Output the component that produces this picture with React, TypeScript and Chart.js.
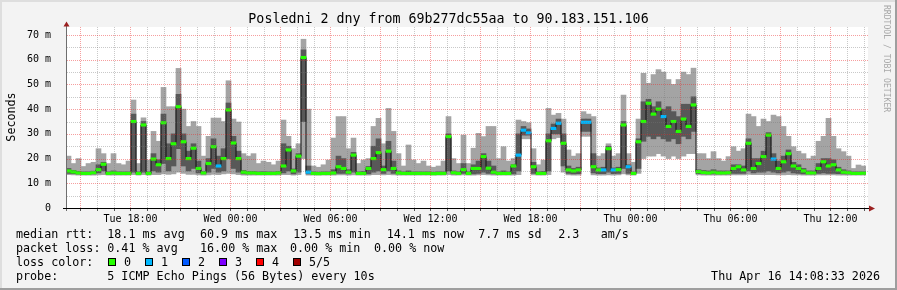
import React, { useEffect, useRef } from 'react';
import { Chart, registerables } from 'chart.js';

Chart.register(...registerables);

const W = 897;
const H = 290;
const MONO = '"DejaVu Sans Mono", monospace';

const TITLE = 'Posledni 2 dny from 69b277dc55aa to 90.183.151.106';
const START_MIN = 14 * 60 + 8 + 33 / 60; // Tue 14:08:33 (minutes after Tue 00:00)
const SPAN_MIN = 48 * 60;
const STEP_MIN = 18;

// smoke: min .. max (light), lo .. hi (dark), median (line)
const smokeMax = [
  21, 18, 20, 16.8, 18, 18.5, 24, 22, 18, 22,
  18, 17.5, 19, 43.7, 18, 36.5, 19.4, 31, 27, 48.8,
  41, 41, 56.5, 40, 33, 35, 33, 21, 29, 36.4,
  36.4, 35, 51.5, 36, 34.8, 22, 21, 22, 18, 19,
  18.5, 17.5, 19, 35.6, 29, 24, 26, 68.3, 40, 17,
  16.5, 17.5, 19.4, 28.3, 37, 37, 24, 28.3, 18, 19.4,
  20, 33, 36.3, 26, 40.3, 31, 22, 17, 25.5, 19.4,
  18, 19, 17, 16.5, 17, 19, 37, 20, 18, 29.5,
  18, 24.2, 30.2, 28.9, 33, 33, 20, 24.8, 19, 20,
  35.6, 35, 34.5, 24, 17.5, 19.4, 40.3, 37.6, 38.3, 36,
  23.5, 21, 22, 39, 38, 37, 21, 22, 26, 21,
  22, 45.7, 22, 18.5, 36, 54.5, 50.5, 54, 56, 55,
  52, 50, 52, 55, 54, 56.6, 22, 22, 20, 22.8,
  20, 19, 20.8, 24.8, 23, 24, 38, 37, 33, 36,
  35, 37.6, 37, 33, 29, 24.8, 23, 22, 20, 21,
  27, 29, 36.3, 29, 24, 22.8, 21, 16, 17.4, 17,
];

const smokeHi = [
  16, 15.2, 14.8, 14.6, 14.6, 14.9, 17.5, 18.5, 14.6, 15,
  14.6, 14.6, 14.6, 38, 14.6, 35, 14.6, 22, 19.5, 38,
  26, 30, 46, 30, 23, 26, 19, 14.8, 20, 28,
  21, 24, 42.5, 29, 23, 15.2, 14.8, 14.8, 14.6, 14.7,
  14.6, 14.6, 14.8, 26, 25, 15.8, 22, 64, 17, 14.6,
  14.5, 14.6, 14.6, 15.5, 21, 20, 15.5, 22.5, 14.6, 14.8,
  16.8, 25, 28, 17, 27, 19, 15, 14.6, 15, 14.6,
  14.6, 14.6, 14.6, 14.5, 14.6, 14.6, 30, 15, 14.6, 18,
  14.6, 17.5, 19, 22, 19, 17, 14.6, 15, 14.6, 17.5,
  30, 33, 32, 18.5, 14.6, 14.8, 30, 34, 36, 30,
  17, 16, 16.5, 36, 36, 22, 16.2, 16.5, 25, 16.2,
  16.5, 35, 17.5, 14.6, 28, 43, 44, 41, 43, 40,
  41, 39, 37, 42, 42, 45, 15.5, 15.2, 15, 15.5,
  15, 15, 15, 17.5, 17.5, 17, 28, 20, 20, 23,
  30.5, 22, 19, 21, 23.5, 18.5, 17.5, 16, 15, 15,
  18, 20, 20, 19.5, 16.5, 15.5, 15, 14.6, 14.6, 14.6,
];

const median = [
  15, 14.6, 14.2, 14, 14, 14.3, 15.5, 17.7, 14, 14.2,
  14, 14, 14, 35, 14, 33.6, 14, 19.8, 17.5, 34.5,
  20, 26, 41, 26.8, 20, 24.2, 16, 14.2, 18, 24.8,
  17, 20, 39.7, 26.3, 20, 14.5, 14.2, 14.2, 14, 14,
  14, 14, 14.2, 17, 23.5, 15, 21, 60.9, 14.5, 14,
  13.9, 14, 14, 14.2, 16.7, 16, 14.5, 21.4, 14, 14,
  16, 20, 22.4, 15.5, 23, 16, 14.2, 14, 14, 14,
  14, 14, 14, 13.9, 14, 14, 28.9, 14.3, 14, 15.5,
  14, 16, 16, 20.8, 16.1, 14.5, 14, 14, 14, 17,
  21.4, 31.5, 30.4, 16.7, 14, 14, 27.2, 32.2, 34.3, 26.2,
  15.4, 15, 15.4, 34.7, 34.7, 16.7, 15.4, 15.4, 24, 15.4,
  15.5, 33.6, 16.7, 14, 26.8, 35, 42.4, 38, 40, 37,
  33, 35, 31, 36, 33, 41.7, 14.7, 14.4, 14.2, 14.5,
  14.2, 14.2, 14.3, 16, 16.7, 15.4, 26.2, 16, 18, 20.8,
  29.5, 19.8, 16, 18.7, 22, 17, 16, 15, 14.2, 14.2,
  16, 18.7, 17, 17.5, 15.4, 14.5, 14.3, 14, 14, 14.1,
];

const smokeLo = [
  14, 13.9, 13.8, 13.8, 13.8, 13.8, 14.2, 15, 13.8, 13.8,
  13.8, 13.8, 13.8, 14.5, 13.8, 14.5, 13.8, 15, 14.5, 18,
  15, 17, 24, 17, 15, 16, 14.2, 13.8, 14.5, 16,
  14.5, 15, 20, 16, 14.5, 13.8, 13.8, 13.8, 13.8, 13.8,
  13.8, 13.8, 13.8, 14.2, 15, 13.8, 14.5, 35, 13.8, 13.8,
  13.8, 13.8, 13.8, 13.8, 14, 14, 13.8, 14.5, 13.8, 13.8,
  13.8, 14.5, 15, 14, 15, 14, 13.8, 13.8, 13.8, 13.8,
  13.8, 13.8, 13.8, 13.8, 13.8, 13.8, 15, 13.8, 13.8, 14,
  13.8, 13.8, 14, 14.5, 14, 13.8, 13.8, 13.8, 13.8, 13.8,
  15, 29.5, 29.5, 14, 13.8, 13.8, 15, 30, 30, 17,
  14, 13.8, 13.9, 31, 31, 14.2, 13.9, 13.9, 14.5, 13.9,
  14, 16, 14, 13.8, 16, 27, 29, 28, 29, 28,
  27, 28, 26, 29, 28, 31, 13.9, 13.8, 13.8, 13.8,
  13.8, 13.8, 13.8, 14, 14, 14, 15, 14.2, 14.5, 14.5,
  15, 14.5, 14.2, 14.5, 15, 14.2, 14, 13.8, 13.8, 13.8,
  14, 14.2, 14, 14, 13.9, 13.8, 13.8, 13.8, 13.8, 13.8,
];

const smokeMin = [
  13.5, 13.4, 13.3, 13.3, 13.3, 13.3, 13.4, 13.5, 13.3, 13.3,
  13.3, 13.3, 13.3, 13.5, 13.3, 13.5, 13.3, 13.5, 13.5, 13.8,
  13.6, 13.8, 14.5, 14, 13.6, 13.6, 13.4, 13.3, 13.4, 13.6,
  13.5, 13.8, 14, 13.8, 13.5, 13.3, 13.3, 13.3, 13.3, 13.3,
  13.3, 13.3, 13.3, 13.5, 13.5, 13.3, 13.5, 20, 13.3, 13.3,
  13.3, 13.3, 13.3, 13.3, 13.4, 13.4, 13.3, 13.4, 13.3, 13.3,
  13.3, 13.5, 13.5, 13.4, 13.5, 13.4, 13.3, 13.3, 13.3, 13.3,
  13.3, 13.3, 13.3, 13.3, 13.3, 13.3, 13.5, 13.3, 13.3, 13.4,
  13.3, 13.3, 13.4, 13.5, 13.4, 13.3, 13.3, 13.3, 13.3, 13.3,
  13.5, 28, 28, 13.4, 13.3, 13.3, 13.5, 28, 28.5, 14.5,
  13.4, 13.3, 13.3, 29, 29, 13.4, 13.3, 13.3, 13.4, 13.3,
  13.4, 13.8, 13.4, 13.3, 14, 20, 21, 21, 22, 21,
  20, 21, 20, 21, 22, 22, 13.4, 13.3, 13.3, 13.3,
  13.3, 13.3, 13.3, 13.4, 13.4, 13.4, 13.6, 13.5, 13.5, 13.5,
  13.5, 13.5, 13.4, 13.4, 13.5, 13.4, 13.4, 13.3, 13.3, 13.3,
  13.4, 13.4, 13.4, 13.4, 13.3, 13.3, 13.3, 13.3, 13.3, 13.3,
];

// lost pings out of 5 for each step
const lossCount = [
  0, 0, 0, 0, 0, 0, 0, 0, 0, 0,
  0, 0, 0, 0, 0, 0, 0, 0, 0, 0,
  0, 0, 0, 0, 0, 0, 0, 0, 0, 0,
  1, 0, 0, 0, 0, 0, 0, 0, 0, 0,
  0, 0, 0, 0, 0, 0, 0, 0, 1, 0,
  0, 0, 0, 0, 0, 0, 0, 0, 0, 0,
  0, 0, 0, 0, 0, 0, 0, 0, 0, 0,
  0, 0, 0, 0, 0, 0, 0, 0, 0, 0,
  0, 0, 0, 0, 0, 0, 0, 0, 0, 0,
  1, 1, 1, 0, 0, 0, 0, 1, 1, 0,
  0, 0, 0, 1, 1, 0, 0, 1, 0, 1,
  0, 0, 1, 0, 0, 0, 0, 0, 0, 1,
  0, 0, 0, 0, 0, 0, 0, 0, 0, 0,
  0, 0, 0, 0, 0, 0, 0, 0, 0, 0,
  0, 1, 0, 0, 0, 0, 0, 0, 0, 0,
  0, 0, 0, 0, 0, 0, 0, 0, 0, 0,
];

const xLabelTimes = [1080, 1440, 1800, 2160, 2520, 2880, 3240, 3600];
const xLabels = ['Tue 18:00', 'Wed 00:00', 'Wed 06:00', 'Wed 12:00', 'Wed 18:00', 'Thu 00:00', 'Thu 06:00', 'Thu 12:00'];
const yLabelValues = [0, 10, 20, 30, 40, 50, 60, 70];
const yLabels = ['0', '10 m', '20 m', '30 m', '40 m', '50 m', '60 m', '70 m'];

const lossColors = ['#26ff00', '#00b8ff', '#0059ff', '#7e00ff', '#ff0000', '#a00000'];
const lossLabels = ['0', '1', '2', '3', '4', '5/5'];

const rttTexts = ['median rtt:', '18.1 ms avg', '60.9 ms max', '13.5 ms min', '14.1 ms now', '7.7 ms sd', '2.3', 'am/s'];
const lossTexts = ['packet loss:', '0.41 % avg', '16.00 % max', '0.00 % min', '0.00 % now'];
const probeTexts = ['probe:', '5 ICMP Echo Pings (56 Bytes) every 10s'];
const DATE_TEXT = 'Thu Apr 16 14:08:33 2026';

// layout
const rttX = [16, 107.3, 200, 293.3, 386.7, 478.3, 558.3, 600.7];
const lossX = [16, 107.3, 200, 290, 374];
const probeX = [16, 107.3];
const swatchX = [108.5, 145.5, 182.5, 219.5, 256.5, 293.5];
const MAJOR = 'rgba(235, 40, 40, 0.45)';
const MINOR = 'rgba(120, 120, 120, 0.40)';
const ARROW = '#9b2020';
const BAND = 0.5;

const hourTicks: number[] = [];
for (let v = 900; v <= 3720; v += 60) hourTicks.push(v);
const yGrid: number[] = [];
for (let v = 5; v <= 70; v += 5) yGrid.push(v);

const framePlugin = {
  id: 'rrdFrame',
  beforeDraw(chart: any) {
    const c = chart.ctx;
    const a = chart.chartArea;
    c.save();
    c.fillStyle = '#f3f3f3';
    c.fillRect(0, 0, W, H);
    c.fillStyle = '#dedede';
    c.fillRect(0, 0, W, 2);
    c.fillRect(0, 0, 2, H);
    c.fillStyle = '#9e9e9e';
    c.fillRect(0, H - 2, W, 2);
    c.fillRect(W - 2, 0, 2, H);
    c.fillStyle = '#ffffff';
    c.fillRect(a.left, a.top, a.right - a.left + 2, a.bottom - a.top);
    c.restore();
  },
  afterDatasetsDraw(chart: any) {
    const c = chart.ctx;
    const a = chart.chartArea;
    const xs = chart.scales.x;
    const ys = chart.scales.y;
    c.save();
    c.lineWidth = 1;
    c.setLineDash([1, 1]);
    hourTicks.forEach((v) => {
      const px = Math.round(xs.getPixelForValue(v)) + 0.5;
      c.strokeStyle = v % 180 === 0 ? MAJOR : MINOR;
      c.beginPath();
      c.moveTo(px, a.top);
      c.lineTo(px, a.bottom);
      c.stroke();
    });
    yGrid.forEach((v) => {
      const py = Math.round(ys.getPixelForValue(v)) + 0.5;
      c.strokeStyle = v % 10 === 0 ? MAJOR : MINOR;
      c.beginPath();
      c.moveTo(a.left + 1, py);
      c.lineTo(a.right + 2, py);
      c.stroke();
    });
    c.setLineDash([]);
    c.strokeStyle = '#555555';
    hourTicks.forEach((v) => {
      const px = Math.round(xs.getPixelForValue(v)) + 0.5;
      c.beginPath();
      c.moveTo(px, a.bottom + 1);
      c.lineTo(px, a.bottom + 3);
      c.stroke();
    });
    // time labels
    c.fillStyle = '#000';
    c.font = '10px ' + MONO;
    c.textAlign = 'center';
    c.textBaseline = 'alphabetic';
    xLabelTimes.forEach((v, i) => {
      c.fillText(xLabels[i], Math.round(xs.getPixelForValue(v)) + 0.5, a.bottom + 14);
    });
    c.restore();
  },
  afterDraw(chart: any) {
    const c = chart.ctx;
    const a = chart.chartArea;
    c.save();
    // axes
    c.lineWidth = 1;
    c.strokeStyle = '#6e6e6e';
    c.beginPath();
    c.moveTo(a.left + 0.5, a.top - 1);
    c.lineTo(a.left + 0.5, a.bottom + 3);
    c.stroke();
    c.strokeStyle = '#000';
    c.beginPath();
    c.moveTo(a.left - 3, a.bottom + 0.5);
    c.lineTo(a.right + 3, a.bottom + 0.5);
    c.stroke();
    c.fillStyle = ARROW;
    c.beginPath();
    c.moveTo(a.left + 0.5, a.top - 5.5);
    c.lineTo(a.left - 2.5, a.top - 0.5);
    c.lineTo(a.left + 3.5, a.top - 0.5);
    c.closePath();
    c.fill();
    c.beginPath();
    c.moveTo(a.right + 9, a.bottom + 0.5);
    c.lineTo(a.right + 3, a.bottom - 2.5);
    c.lineTo(a.right + 3, a.bottom + 3.5);
    c.closePath();
    c.fill();

    // title
    c.fillStyle = '#000';
    c.textBaseline = 'alphabetic';
    c.textAlign = 'center';
    c.font = '13.3px ' + MONO;
    c.fillText(TITLE, W / 2, 23);

    // y title
    c.font = '11.7px ' + MONO;
    c.save();
    c.translate(15, 117);
    c.rotate(-Math.PI / 2);
    c.fillText('Seconds', 0, 0);
    c.restore();

    // watermark
    c.save();
    c.fillStyle = '#a8a8a8';
    c.font = '8.1px ' + MONO;
    c.textAlign = 'left';
    c.translate(884, 5);
    c.rotate(Math.PI / 2);
    c.fillText('RRDTOOL / TOBI OETIKER', 0, 0);
    c.restore();

    // legend
    c.textAlign = 'left';
    c.fillStyle = '#000';
    rttTexts.forEach((t, i) => c.fillText(t, rttX[i], 238));
    lossTexts.forEach((t, i) => c.fillText(t, lossX[i], 252));
    c.fillText('loss color:', 16, 266);
    lossColors.forEach((col, i) => {
      c.fillStyle = col;
      c.fillRect(swatchX[i], 258.5, 7, 7);
      c.strokeStyle = '#000';
      c.strokeRect(swatchX[i], 258.5, 7, 7);
      c.fillStyle = '#000';
      c.fillText(lossLabels[i], swatchX[i] + 15.5, 266);
    });
    probeTexts.forEach((t, i) => c.fillText(t, probeX[i], 280));
    c.textAlign = 'right';
    c.fillText(DATE_TEXT, 880, 280);
    c.restore();
  },
};

export default function App() {
  const ref = useRef<HTMLCanvasElement | null>(null);

  useEffect(() => {
    if (!ref.current) return;
    const times = median.map((_, i) => START_MIN + STEP_MIN * (i + 0.5));
    const range = (lo: number[], hi: number[]) => times.map((t, i) => ({ x: t, y: [lo[i], hi[i]] }));
    const barBase = {
      type: 'bar' as const,
      grouped: false,
      barPercentage: 1,
      categoryPercentage: 1,
      borderWidth: 0,
    };
    const chart = new Chart(ref.current, {
      type: 'bar',
      data: {
        datasets: [
          { ...barBase, label: 'smoke all', data: range(smokeMin, smokeMax) as any, backgroundColor: '#a4a4a4', order: 4 },
          { ...barBase, label: 'smoke mid', data: range(smokeLo, smokeHi) as any, backgroundColor: '#585858', order: 3 },
          {
            type: 'line',
            label: 'median',
            data: times.map((t, i) => ({ x: t, y: median[i] })) as any,
            borderColor: '#111111',
            borderWidth: 1,
            pointRadius: 0,
            stepped: 'middle',
            order: 2,
          } as any,
          {
            ...barBase,
            label: 'median loss',
            data: times.map((t, i) => ({ x: t, y: [median[i] - BAND, median[i] + BAND] })) as any,
            backgroundColor: lossCount.map((l) => lossColors[l]),
            order: 1,
          },
        ],
      },
      options: {
        responsive: false,
        maintainAspectRatio: false,
        animation: false,
        devicePixelRatio: 1,
        events: [],
        layout: { padding: { left: 0, right: 31, top: 27, bottom: 0 } },
        plugins: { legend: { display: false }, tooltip: { enabled: false }, title: { display: false } },
        scales: {
          x: {
            type: 'linear',
            min: START_MIN,
            max: START_MIN + SPAN_MIN,
            offset: false,
            afterBuildTicks: (s: any) => {
              s.ticks = hourTicks.map((v) => ({ value: v }));
            },
            afterFit: (s: any) => {
              s.height = 82;
            },
            grid: { display: false, offset: false },
            border: { display: false },
            ticks: { display: false },
          },
          y: {
            type: 'linear',
            min: 0,
            max: 73.25,
            afterBuildTicks: (s: any) => {
              s.ticks = [0, ...yGrid].map((v) => ({ value: v }));
            },
            afterFit: (s: any) => {
              s.width = 66;
            },
            grid: { display: false },
            border: { display: false },
            ticks: {
              padding: 7,
              color: '#000',
              font: { family: MONO, size: 10 },
              callback: (v: any) => {
                const k = yLabelValues.indexOf(Number(v));
                return k >= 0 ? yLabels[k] : '';
              },
            },
          },
        },
      },
      plugins: [framePlugin],
    } as any);
    return () => chart.destroy();
  }, []);

  return (
    <div style={{ position: 'fixed', left: 0, top: 0, width: W, height: H }}>
      <canvas ref={ref} width={W} height={H} style={{ display: 'block' }} />
    </div>
  );
}
